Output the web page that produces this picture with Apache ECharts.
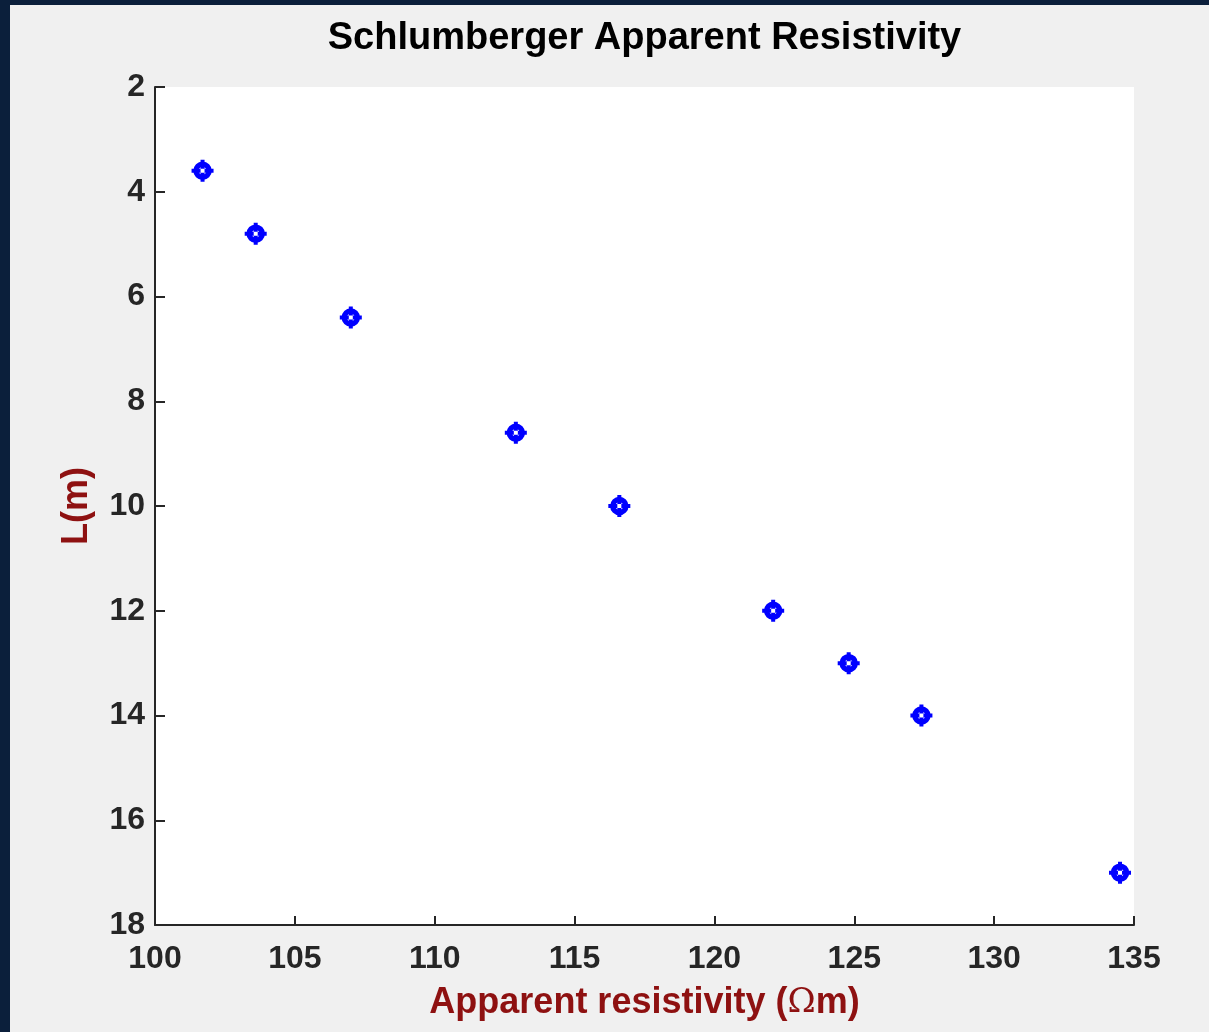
<!DOCTYPE html>
<html>
<head>
<meta charset="utf-8">
<script src="https://cdn.jsdelivr.net/npm/echarts@6/dist/echarts.min.js"></script>
<style>
  html, body { margin: 0; padding: 0; width: 1209px; height: 1032px; background: #0b1f3b; overflow: hidden; }
  #chart { position: absolute; left: 10px; top: 5px; width: 1199px; height: 1027px; background: #f0f0f0; }
</style>
</head>
<body>
<div id="chart"></div>
<script>
// Electrode half-spacing L (m) against apparent resistivity (Ohm·m)
const resistivity = [101.7, 103.6, 107.0, 112.9, 116.6, 122.1, 124.8, 127.4, 134.5];
const spacingL = [3.6, 4.8, 6.4, 8.6, 10, 12, 13, 14, 17];

const xTicks = { min: 100, max: 135, interval: 5 };
const yTicks = { min: 2, max: 18, interval: 2 };

const points = resistivity.map((r, i) => [r, spacingL[i]]);

const labelFont = 'Liberation Sans, Arial, Helvetica, sans-serif';
const darkRed = '#8e1111';
const axisColor = '#262626';
const markerBlue = '#0000ff';

const gridBox = { left: 145, top: 82, right: 75, bottom: 107 };

// plus-sign arms drawn around the open circle marker
const plusArms = 'path://M9,0h4v9h-4z M9,13h4v9h-4z M0,9h9v4h-9z M13,9h9v4h-9z';

const chartEl = document.getElementById('chart');
const chart = echarts.init(chartEl, null, { renderer: 'canvas' });
const plotCenterX = gridBox.left + (chartEl.clientWidth - gridBox.left - gridBox.right) / 2;

chart.setOption({
  backgroundColor: '#f0f0f0',
  animation: false,
  graphic: [{
    type: 'text',
    x: plotCenterX,
    y: 34,
    style: {
      text: 'Schlumberger Apparent Resistivity',
      fontFamily: labelFont, fontWeight: 'bold', fontSize: 38, fill: '#000',
      align: 'center', verticalAlign: 'middle'
    }
  }],
  grid: Object.assign({ show: true, backgroundColor: '#ffffff', borderWidth: 0 }, gridBox),
  xAxis: {
    type: 'value',
    min: xTicks.min, max: xTicks.max, interval: xTicks.interval,
    name: '{t|Apparent resistivity (}{o|Ω}{t|m)}',
    nameLocation: 'middle',
    nameGap: 60,
    nameTextStyle: {
      rich: {
        t: { fontFamily: labelFont, fontWeight: 'bold', fontSize: 36, color: darkRed },
        o: { fontFamily: 'DejaVu Serif, serif', fontWeight: 'normal', fontSize: 34, color: darkRed }
      }
    },
    axisLine: { show: true, onZero: false, lineStyle: { color: axisColor, width: 2 } },
    axisTick: { show: true, inside: true, length: 9, lineStyle: { color: axisColor, width: 2 } },
    axisLabel: { margin: 18, fontFamily: labelFont, fontWeight: 'bold', fontSize: 32, color: '#262626' },
    splitLine: { show: false }
  },
  yAxis: {
    type: 'value',
    inverse: true,
    min: yTicks.min, max: yTicks.max, interval: yTicks.interval,
    name: 'L(m)',
    nameLocation: 'middle',
    nameGap: 60,
    nameRotate: 90,
    nameTextStyle: { fontFamily: labelFont, fontWeight: 'bold', fontSize: 36, color: darkRed },
    axisLine: { show: true, onZero: false, lineStyle: { color: axisColor, width: 2 } },
    axisTick: { show: true, inside: true, length: 10, lineStyle: { color: axisColor, width: 2 } },
    axisLabel: { margin: 10, fontFamily: labelFont, fontWeight: 'bold', fontSize: 32, color: '#262626' },
    splitLine: { show: false }
  },
  series: [
    {
      type: 'scatter',
      data: points,
      symbol: 'circle',
      symbolSize: 13,
      itemStyle: { color: '#ffffff', borderColor: markerBlue, borderWidth: 5.5, opacity: 1 },
      z: 3
    },
    {
      type: 'scatter',
      data: points,
      symbol: plusArms,
      symbolSize: 22,
      itemStyle: { color: markerBlue, opacity: 1 },
      z: 4
    }
  ]
});
</script>
</body>
</html>
